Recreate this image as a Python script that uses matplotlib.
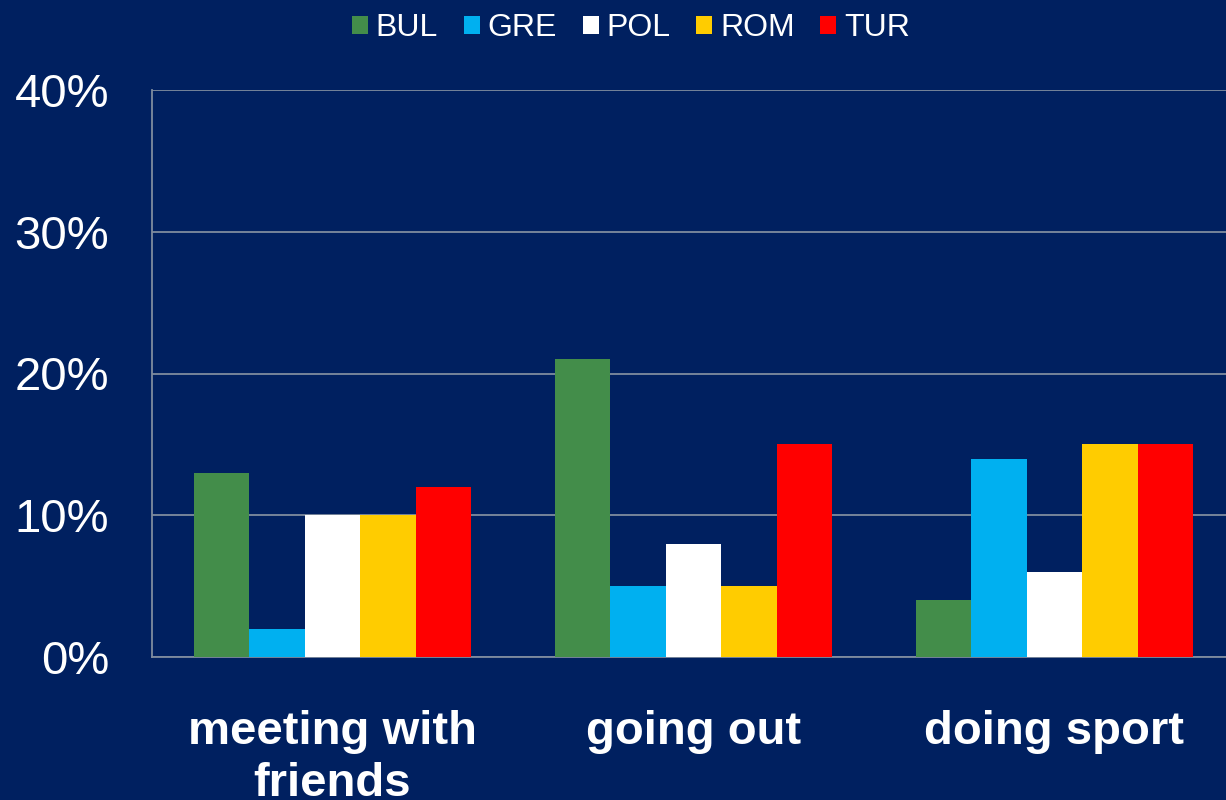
import matplotlib.pyplot as plt
import numpy as np

plt.rcParams['font.family'] = ['Liberation Sans', 'DejaVu Sans']

categories = ["meeting with\nfriends", "going out", "doing sport"]
countries = ["BUL", "GRE", "POL", "ROM", "TUR"]
bul = [13, 21, 4]
gre = [2, 5, 14]
pol = [10, 8, 6]
rom = [10, 5, 15]
tur = [12, 15, 15]
colors = ["#438D4A", "#00B0F0", "#FFFFFF", "#FFCC00", "#FF0000"]

bg = "#002060"
fig = plt.figure(figsize=(12.26, 8), dpi=100, facecolor=bg)
ax = fig.add_axes([152/1226, 1 - 657/800, 1083/1226, (657 - 90)/800])
ax.set_facecolor(bg)

series = [bul, gre, pol, rom, tur]
x = np.arange(len(categories))
w = 0.77 / len(series)
for i, (vals, c, name) in enumerate(zip(series, colors, countries)):
    ax.bar(x + (i - 2) * w, vals, w, color=c, label=name, zorder=3)

ax.set_xlim(-0.5, 2.5)
ax.set_ylim(0, 40)
ax.set_yticks([0, 10, 20, 30, 40])
ax.set_yticklabels(["0%", "10%", "20%", "30%", "40%"])
ax.set_xticks(x)
ax.set_xticklabels(categories, fontweight="bold", fontsize=34, linespacing=1.25)
ax.tick_params(axis="y", colors="white", labelsize=34, length=0, pad=31)
ax.tick_params(axis="x", colors="white", length=0, pad=38)
ax.yaxis.grid(True, color="#7F8C9F", linewidth=1.3, zorder=0)
for s in ["top", "right"]:
    ax.spines[s].set_visible(False)
for s in ["left", "bottom"]:
    ax.spines[s].set_color("#7F8C9F")
    ax.spines[s].set_linewidth(1.3)

leg = fig.legend(loc="center", bbox_to_anchor=(631/1226, 1 - 28/800), ncol=5,
                 frameon=False, fontsize=23, handlelength=0.5, handleheight=0.5,
                 handletextpad=0.25, columnspacing=0.8)
for t in leg.get_texts():
    t.set_color("white")

fig.savefig("out.png", dpi=100, facecolor=bg)
